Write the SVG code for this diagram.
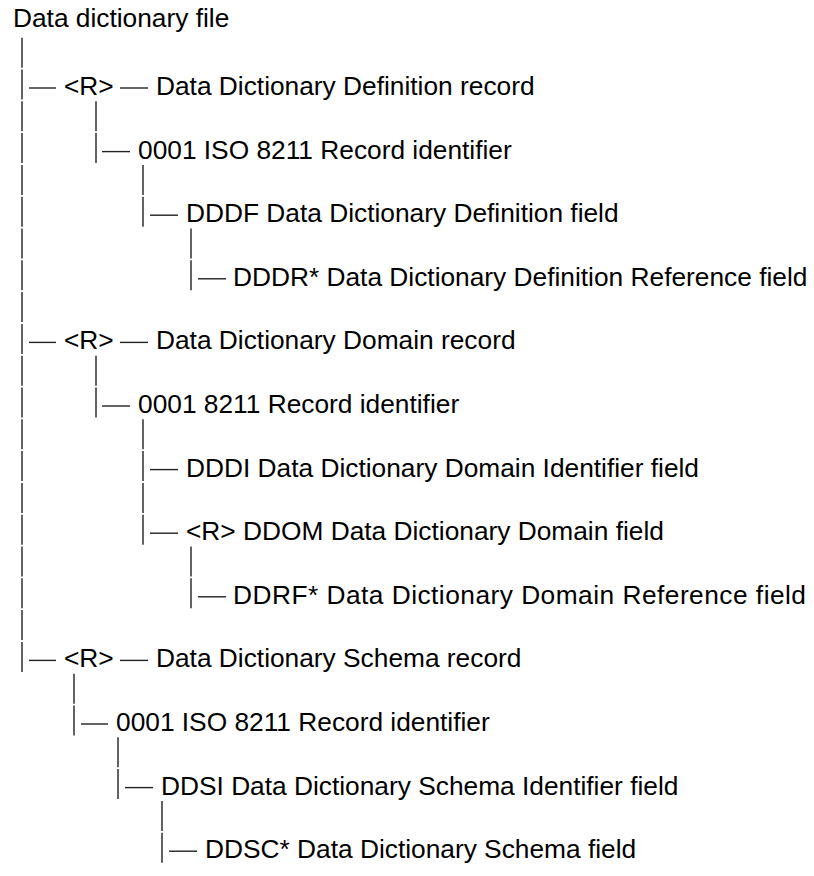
<svg xmlns="http://www.w3.org/2000/svg" width="814" height="876" viewBox="0 0 814 876">
<style>
text{font-family:"Liberation Sans",Arial,sans-serif;font-size:26.3px;fill:#000}
.c line{stroke:#222;stroke-width:1.4;fill:none}
.col{stroke-dasharray:30 1.8}
</style>
<rect width="814" height="876" fill="#fff"/>
<g id="connectors" class="c">
  <line class="col" x1="22" y1="37.7" x2="22" y2="671.9"/>
  <line class="col" x1="96" y1="101.3" x2="96" y2="163.1"/>
  <line class="col" x1="96" y1="355.7" x2="96" y2="417.5"/>
  <line class="col" x1="143" y1="164.9" x2="143" y2="226.7"/>
  <line class="col" x1="143" y1="419.3" x2="143" y2="544.7"/>
  <line class="col" x1="191" y1="228.5" x2="191" y2="290.3"/>
  <line class="col" x1="191" y1="546.5" x2="191" y2="608.3"/>
  <line class="col" x1="74" y1="673.7" x2="74" y2="735.5"/>
  <line class="col" x1="118" y1="737.3" x2="118" y2="799.1"/>
  <line class="col" x1="162" y1="800.9" x2="162" y2="862.7"/>
  <line x1="29" y1="88" x2="56" y2="88"/>
  <line x1="120" y1="88" x2="148" y2="88"/>
  <line x1="102" y1="151.6" x2="130" y2="151.6"/>
  <line x1="150" y1="215.2" x2="178" y2="215.2"/>
  <line x1="198" y1="278.8" x2="226" y2="278.8"/>
  <line x1="29" y1="342.4" x2="56" y2="342.4"/>
  <line x1="120" y1="342.4" x2="148" y2="342.4"/>
  <line x1="102" y1="406" x2="130" y2="406"/>
  <line x1="150" y1="469.6" x2="178" y2="469.6"/>
  <line x1="150" y1="533.2" x2="178" y2="533.2"/>
  <line x1="198" y1="596.8" x2="226" y2="596.8"/>
  <line x1="29" y1="660.4" x2="56" y2="660.4"/>
  <line x1="120" y1="660.4" x2="148" y2="660.4"/>
  <line x1="81" y1="724" x2="108" y2="724"/>
  <line x1="125" y1="787.6" x2="153" y2="787.6"/>
  <line x1="169" y1="851.2" x2="197" y2="851.2"/>
</g>
<g id="file"><text x="13" y="27">Data dictionary file</text></g>
<g id="r1"><text x="64" y="95">&lt;R&gt;</text></g>
<g id="ddd-record"><text x="156" y="95">Data Dictionary Definition record</text></g>
<g id="rid1"><text x="138" y="158.6">0001 ISO 8211 Record identifier</text></g>
<g id="dddf"><text x="186" y="222.2">DDDF Data Dictionary Definition field</text></g>
<g id="dddr"><text x="233" y="285.8">DDDR* Data Dictionary Definition Reference field</text></g>
<g id="r2"><text x="64" y="349.4">&lt;R&gt;</text></g>
<g id="domain-record"><text x="156" y="349.4">Data Dictionary Domain record</text></g>
<g id="rid2"><text x="138" y="413">0001 8211 Record identifier</text></g>
<g id="dddi"><text x="186" y="476.6">DDDI Data Dictionary Domain Identifier field</text></g>
<g id="ddom"><text x="186" y="540.2">&lt;R&gt; DDOM Data Dictionary Domain field</text></g>
<g id="ddrf"><text x="233" y="603.8" textLength="573" lengthAdjust="spacing">DDRF* Data Dictionary Domain Reference field</text></g>
<g id="r3"><text x="64" y="667.4">&lt;R&gt;</text></g>
<g id="schema-record"><text x="156" y="667.4">Data Dictionary Schema record</text></g>
<g id="rid3"><text x="116" y="731">0001 ISO 8211 Record identifier</text></g>
<g id="ddsi"><text x="161" y="794.6">DDSI Data Dictionary Schema Identifier field</text></g>
<g id="ddsc"><text x="205" y="858.2">DDSC* Data Dictionary Schema field</text></g>
</svg>
